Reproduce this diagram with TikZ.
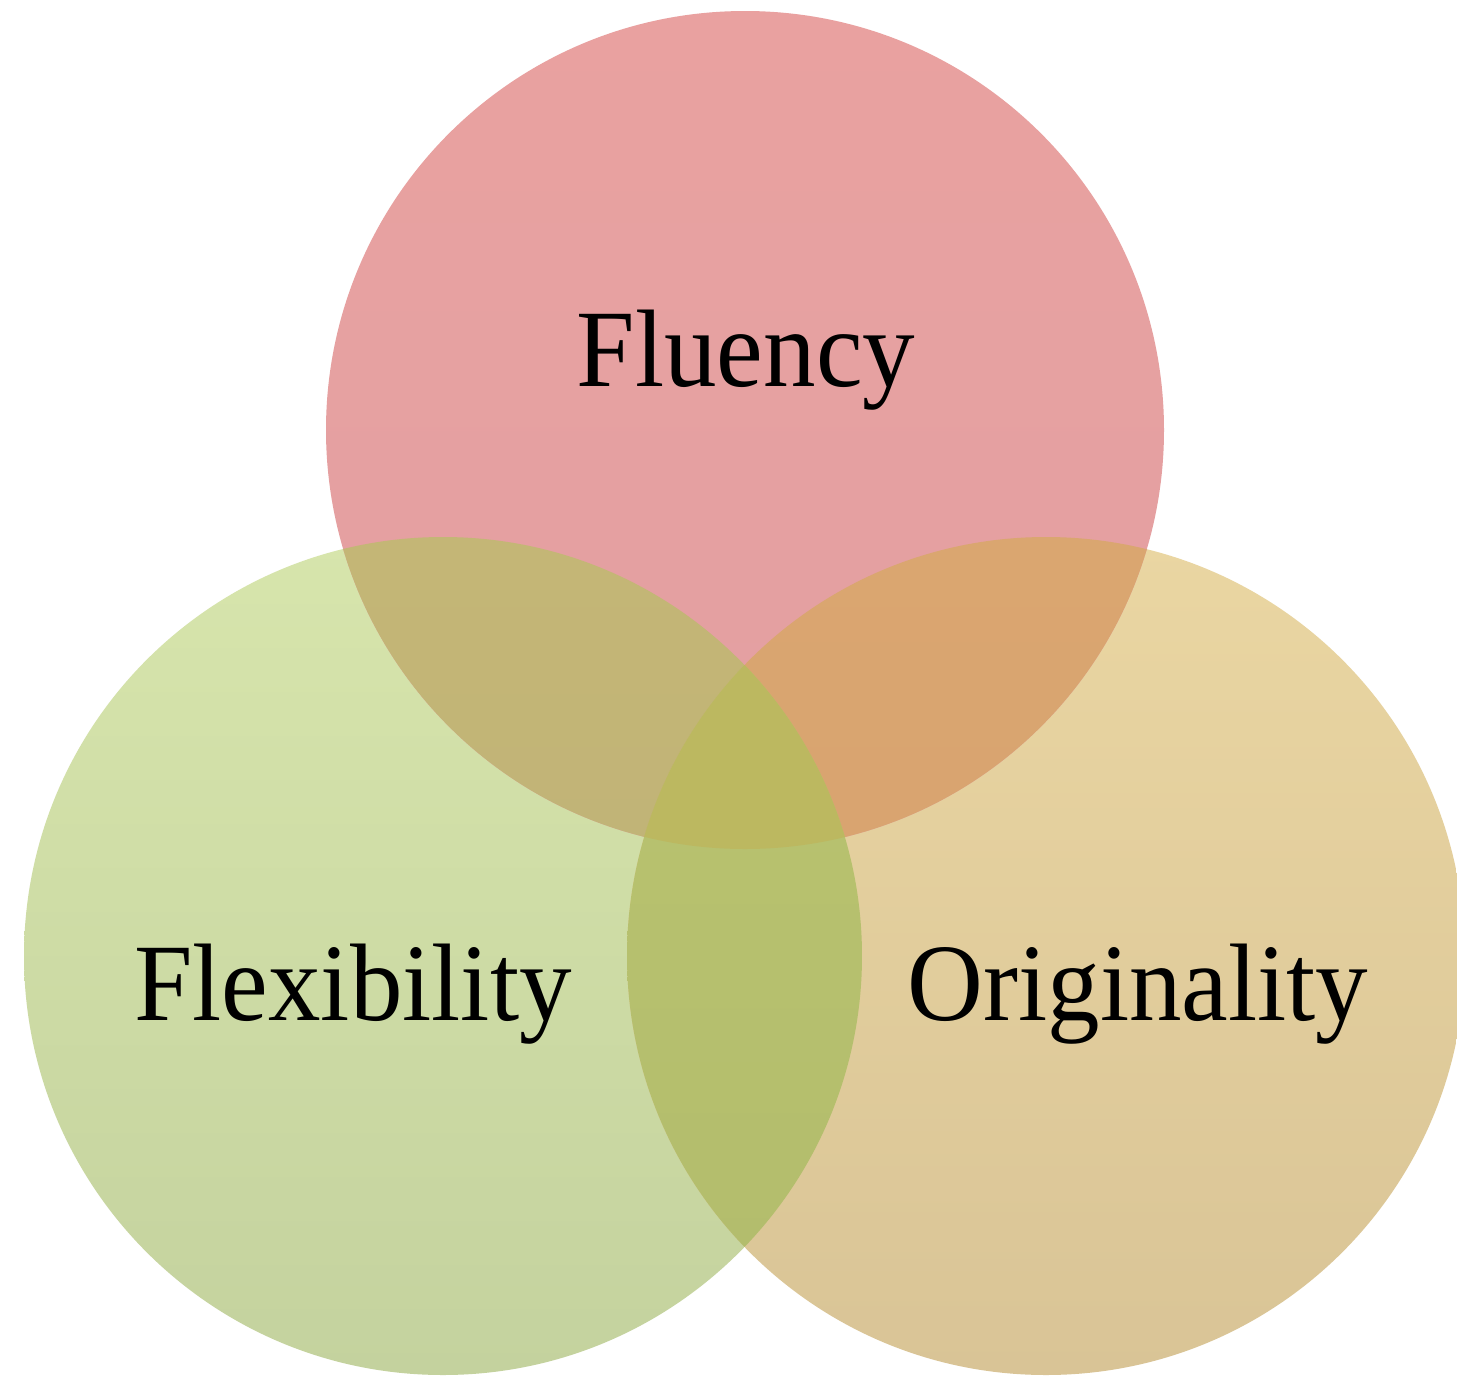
\documentclass[tikz,border=0pt]{standalone}
\usepackage{fontspec}
\setmainfont{Liberation Serif}
\begin{document}
\begin{tikzpicture}[x=1pt,y=-1pt,
  label/.style={inner sep=0pt,anchor=base,font=\fontsize{105}{120}\selectfont,text=black,yscale=1.05}]
\definecolor{redA}{RGB}{233,161,160}
\definecolor{redB}{RGB}{226,160,162}
\definecolor{grnA}{RGB}{215,229,172}
\definecolor{grnB}{RGB}{196,210,158}
\definecolor{orgA}{RGB}{234,214,162}
\definecolor{orgB}{RGB}{217,196,150}
\definecolor{rgA}{RGB}{196,182,118}
\definecolor{rgB}{RGB}{188,176,120}
\definecolor{roA}{RGB}{218,166,112}
\definecolor{roB}{RGB}{214,160,112}
\definecolor{goA}{RGB}{186,196,112}
\definecolor{goB}{RGB}{178,188,108}
\definecolor{midC}{RGB}{188,184,96}
\useasboundingbox (0,0) rectangle (1457,1377);
\fill[white] (0,0) rectangle (1457,1377);
% circle centres and common radius
\coordinate (cF) at (745,430);
\coordinate (cX) at (443,956);
\coordinate (cO) at (1046,956);
\def\rad{419}
% single discs
\shade[top color=grnA,bottom color=grnB] (cX) circle[radius=\rad];
\shade[top color=orgA,bottom color=orgB] (cO) circle[radius=\rad];
\shade[top color=redA,bottom color=redB] (cF) circle[radius=\rad];
% pairwise overlaps
\begin{scope}
  \clip (cF) circle[radius=\rad];
  \shade[top color=rgA,bottom color=rgB] (cX) circle[radius=\rad];
\end{scope}
\begin{scope}
  \clip (cF) circle[radius=\rad];
  \shade[top color=roA,bottom color=roB] (cO) circle[radius=\rad];
\end{scope}
\begin{scope}
  \clip (cX) circle[radius=\rad];
  \shade[top color=goA,bottom color=goB] (cO) circle[radius=\rad];
\end{scope}
% triple overlap
\begin{scope}
  \clip (cF) circle[radius=\rad];
  \clip (cX) circle[radius=\rad];
  \fill[midC] (cO) circle[radius=\rad];
\end{scope}
% labels
\node[label] (fluency) at (746,386) {Fluency};
\node[label] (flex) at (353,1020) {Flexibility};
\node[label] (orig) at (1138,1020) {Originality};
\end{tikzpicture}
\end{document}
